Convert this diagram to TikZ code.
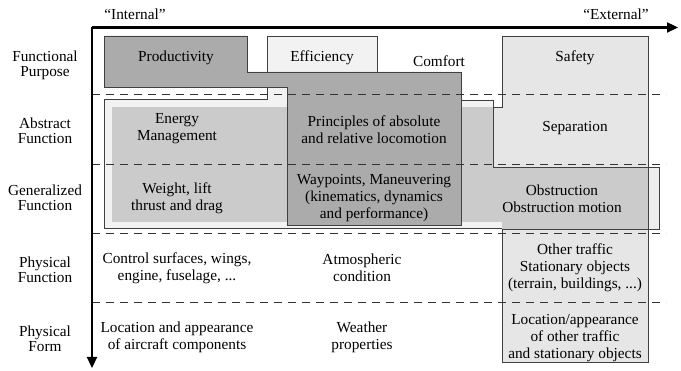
\documentclass[tikz,border=0pt]{standalone}
\usepackage{fontspec}
\setmainfont{Liberation Serif}
\usetikzlibrary{arrows.meta}
\definecolor{darkbox}{HTML}{ABABAB}
\definecolor{effbox}{HTML}{F2F2F2}
\definecolor{medbox}{HTML}{CBCBCB}
\definecolor{safebox}{HTML}{E6E6E6}
\definecolor{slivbox}{HTML}{EEEEEE}
\definecolor{edgecol}{HTML}{404040}
\begin{document}
\begin{tikzpicture}[x=1pt,y=-1pt,
  font=\fontsize{15.3}{17}\selectfont,
  region/.style={draw=edgecol, line width=0.9pt},
  txt/.style={align=center, inner sep=0pt},
  lbl/.style={align=center, inner sep=0pt, font=\fontsize{15.3}{15}\selectfont},
  levelline/.style={draw=black!80, line width=1pt, dash pattern=on 8pt off 6pt},
  axisline/.style={draw=black, line width=2.3pt, -{Triangle[length=11pt,width=10pt]}}]
\useasboundingbox (0,0) rectangle (681,371);

% Efficiency region (lightest)
\path[region, fill=effbox] (267,36) -- (377,36) -- (377,100) -- (493,100) -- (493,150) -- (502,150)
  -- (502,228) -- (104,228) -- (104,99) -- (267,99) -- cycle;
% Energy / forces region (medium, no border)
\fill[medbox] (112,107) rectangle (502,222);
% Safety region
\path[region, fill=safebox] (502,36) -- (648,36) -- (648,362) -- (502,362) -- (502,167)
  -- (493,167) -- (493,107) -- (502,107) -- cycle;
% Obstruction box
\fill[slivbox] (648,167) rectangle (659,229);
\fill[medbox] (502,167) rectangle (648,229);
\draw[edgecol, line width=0.9pt] (648,167) -- (648,229);
\path[region] (493,167) -- (659,167) -- (659,229) -- (502,229);
% Productivity / locomotion region (dark)
\path[region, fill=darkbox] (104,36) -- (247,36) -- (247,72) -- (461,72) -- (461,225)
  -- (287,225) -- (287,87) -- (104,87) -- cycle;

% level separators
\foreach \yy in {94.5,164.5,233.5,302.5}
  \path[levelline] (92,\yy) -- (666,\yy);

% axes
\coordinate (origin) at (92,27.5);
\coordinate (xend) at (678,27.5);
\coordinate (yend) at (92,368);
\path[axisline] (origin) -- (xend);
\path[axisline] (origin) -- (yend);

% axis end labels
\node[txt] (internal) at (135,14) {“Internal”};
\node[txt] (external) at (616,14) {“External”};

% row labels
\node[lbl] (l1) at (45,65) {Functional\\Purpose};
\node[lbl] (l2) at (45,131) {Abstract\\Function};
\node[lbl] (l3) at (45,198) {Generalized\\Function};
\node[lbl] (l4) at (45,270) {Physical\\Function};
\node[lbl] (l5) at (45,339) {Physical\\Form};

% Functional purpose
\node[txt] (prod) at (176,58) {Productivity};
\node[txt] (eff) at (322,58) {Efficiency};
\node[txt] (comf) at (439,61) {Comfort};
\node[txt] (safe) at (575,58) {Safety};

% Abstract function
\node[txt] (energy) at (177,129) {Energy\\Management};
\node[txt] (princ) at (374,130) {Principles of absolute\\and relative locomotion};
\node[txt] (sep) at (575,128) {Separation};

% Generalized function
\node[txt] (weight) at (177,198) {Weight, lift\\thrust and drag};
\node[txt] (way) at (374,198) {Waypoints, Maneuvering\\(kinematics, dynamics\\and performance)};
\node[txt] (obst) at (562,199) {Obstruction\\Obstruction motion};

% Physical function
\node[txt] (ctrl) at (177,268) {Control surfaces, wings,\\engine, fuselage, ...};
\node[txt] (atmo) at (362,268) {Atmospheric\\condition};
\node[txt] (other) at (575,268) {Other traffic\\Stationary objects\\(terrain, buildings, ...)};

% Physical form
\node[txt] (locac) at (177,337) {Location and appearance\\of aircraft components};
\node[txt] (weather) at (362,337) {Weather\\properties};
\node[txt] (locot) at (575,338) {Location/appearance\\of other traffic\\and stationary objects};
\end{tikzpicture}
\end{document}
